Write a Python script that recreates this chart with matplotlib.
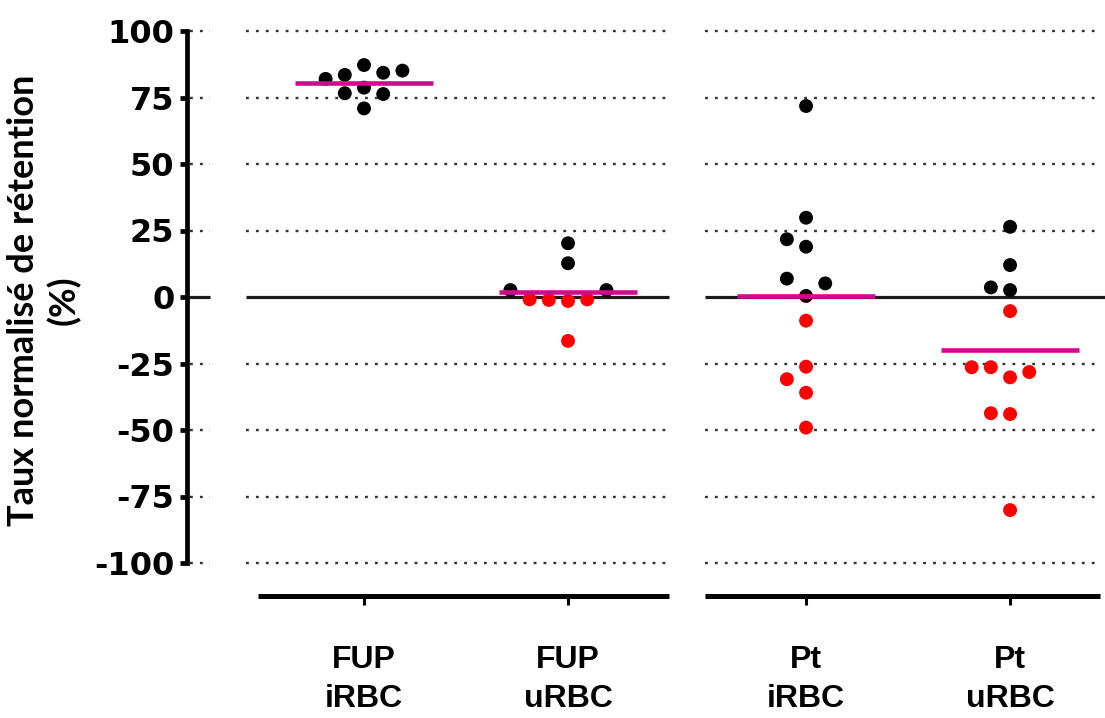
import numpy as np
import matplotlib
matplotlib.use("Agg")
import matplotlib.pyplot as plt
import matplotlib.transforms as mtransforms

# ---------------- data ----------------
groups = ["FUP", "Pt"]
conditions = ["iRBC", "uRBC"]
fup_irbc = [70.9, 78.7, 87.2, 76.6, 76.3, 82.0, 83.5, 84.3, 85.1]
fup_urbc = [-16.5, -1.5, -1.1, -0.9, -0.9, 2.6, 2.6, 12.7, 20.2]
pt_irbc = [71.8, 29.8, 18.9, 0.4, -8.9, -26.2, -36.0, -49.1, 21.7, 6.9, 5.1, -30.9]
pt_urbc = [26.4, 12.0, 2.6, -5.3, -30.2, -44.0, -80.1, 3.6, -26.4, -28.2, -26.4, -43.7]
series = [fup_irbc, fup_urbc, pt_irbc, pt_urbc]
y_ticks = [-100, -75, -50, -25, 0, 25, 50, 75, 100]
y_ticklabels = ["-100", "-75", "-50", "-25", "0", "25", "50", "75", "100"]
y_label = "Taux normalisé de rétention\n(%)"

# ---------------- style ----------------
BLACK = "#000000"
RED = "#ff0000"
MAGENTA = "#d4078d"
GRID = "#333333"

W, H = 1105, 718
fig = plt.figure(figsize=(W / 100, H / 100), dpi=100)
ax = fig.add_axes([187 / W, (H - 563) / H, (W - 187) / W, 532 / H])

group_gap = 0.1667
positions = []
labels = []
for gi, g in enumerate(groups):
    for ci, c in enumerate(conditions):
        positions.append(gi * (len(conditions) + group_gap) + ci)
        labels.append(f"{g}\n{c}")

ax.set_xlim(-0.8676, 3.632)
ax.set_ylim(-100, 100)

# axis break segments (data x units)
first_pos, last_pos = positions[0], positions[-1]
mid_gap = (positions[1] + positions[2]) / 2
half_break = 0.088
left_break = first_pos - 0.667
grid_segs = [(-0.853, left_break - half_break),
             (left_break + half_break, mid_gap - half_break),
             (mid_gap + half_break, last_pos + 0.441)]
zero_segs = [(-0.8676, left_break - half_break),
             (left_break + half_break, mid_gap - half_break),
             (mid_gap + half_break, 3.632)]
spine_segs = [(first_pos - 0.52, mid_gap - half_break),
              (mid_gap + half_break, last_pos + 0.441)]

for t in y_ticks:
    if t == 0:
        for a, b in zero_segs:
            ax.plot([a, b], [0, 0], color="#1a1a1a", lw=2.3, zorder=1,
                    solid_capstyle="butt", clip_on=False)
    else:
        for a, b in grid_segs:
            ax.plot([a, b], [t, t], color=GRID, lw=1.7, ls=(0, (1.2, 3.0)),
                    zorder=0.5, clip_on=False)


def swarm(values, xc, step_px=19.2, d_px=18.0):
    pts = ax.transData.transform(np.column_stack([np.full(len(values), xc), values]))
    placed = {}
    slots = []
    order = [0, -1, 1, -2, 2, -3, 3, -4, 4, -5, 5]
    for y in pts[:, 1]:
        for s in order:
            if all(abs(y - yy) >= d_px for yy in placed.get(s, [])):
                placed.setdefault(s, []).append(y)
                slots.append(s)
                break
    xpx = pts[:, 0] + np.array(slots) * step_px
    return ax.transData.inverted().transform(np.column_stack([xpx, pts[:, 1]]))[:, 0]


for p, vals in zip(positions, series):
    v = np.asarray(vals)
    xs = swarm(v, p)
    cols = np.where(v < 0, RED, BLACK)
    ax.scatter(xs, v, s=100, c=cols, linewidths=0, zorder=3, clip_on=False)
    ax.hlines(np.mean(v), p - 0.34, p + 0.34, color=MAGENTA, lw=3.3, zorder=4)

# spines
for s in ["top", "right", "bottom"]:
    ax.spines[s].set_visible(False)
ax.spines["left"].set_linewidth(3.4)
ax.spines["left"].set_color(BLACK)
ax.spines["bottom"].set_position(("outward", 23.8))

trans = mtransforms.blended_transform_factory(ax.transData, ax.transAxes)
for a, b in spine_segs:
    ax.plot([a, b], [-33 / 532, -33 / 532], transform=trans, color=BLACK, lw=3.6,
            solid_capstyle="butt", clip_on=False)

ax.set_yticks(y_ticks)
ax.set_yticklabels(y_ticklabels, fontfamily="DejaVu Sans", fontweight="bold", fontsize=23)
ax.tick_params(axis="y", direction="out", length=5, width=3.4, pad=4, color=BLACK)

ax.set_xticks(positions)
ax.set_xticklabels(labels, fontfamily="Liberation Sans", fontweight="bold", fontsize=23,
                   linespacing=1.38)
ax.tick_params(axis="x", direction="out", length=6.5, width=2.2, pad=29, color=BLACK)

fig.text(44 / W, 1 - 300 / H, y_label, rotation=90, ha="center", va="center",
         multialignment="center", fontfamily="Lato", fontweight="bold", fontsize=26,
         linespacing=1.25)

fig.savefig("out.png", dpi=100)
